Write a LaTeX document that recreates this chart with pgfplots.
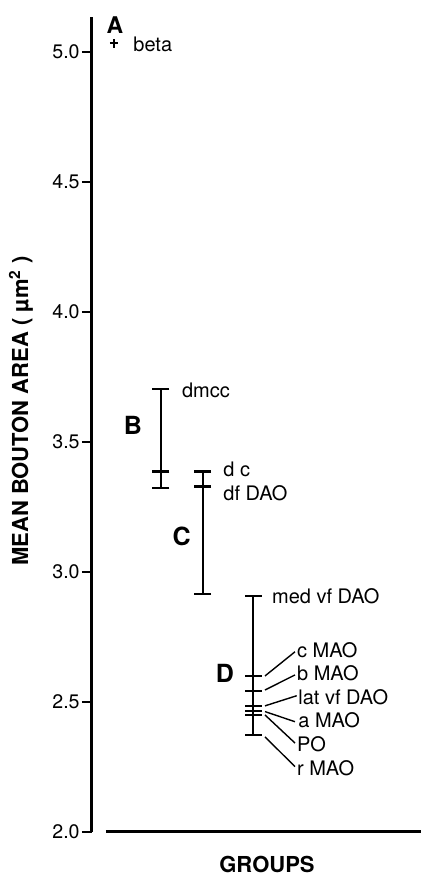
\documentclass[border=0pt]{standalone}
\usepackage{pgfplots}
\pgfplotsset{compat=1.18}
\usepackage{fontspec}
\setmainfont{TeX Gyre Heros}
\newcommand{\lab}{\fontsize{10}{12}\selectfont}
\newcommand{\tck}{\fontsize{9.8}{11}\selectfont}
\newcommand{\grp}{\fontsize{12.5}{14}\selectfont\bfseries}
\begin{document}
\begin{tikzpicture}
\begin{axis}[
  scale only axis, width=164.5pt, height=407.36pt,
  xmin=92, xmax=421, ymin=2.0, ymax=5.1335,
  axis x line=none, axis y line*=left,
  y axis line style={line width=1.5pt},
  xtick=\empty,
  ytick={2.0,2.5,3.0,3.5,4.0,4.5,5.0},
  ytick pos=left, tick align=outside,
  major tick length=5pt,
  major tick style={line width=1pt, black},
  yticklabel style={font=\tck, inner sep=1pt},
  /pgf/number format/fixed, /pgf/number format/fixed zerofill,
  /pgf/number format/precision=1, /pgf/number format/assume math mode=true,
  clip=false,
]
% bars
\addplot[black, line width=1pt, mark=-, mark size=4.25pt, mark options={solid,line width=1.1pt}]
  coordinates {(161,3.703) (161,3.385) (161,3.323)};
\addplot[black, line width=1pt, mark=-, mark size=4.25pt, mark options={solid,line width=1.1pt}]
  coordinates {(202.7,3.385) (202.7,3.328) (202.7,2.914)};
\addplot[black, line width=1pt, mark=-, mark size=4.25pt, mark options={solid,line width=1.1pt}]
  coordinates {(253.3,2.908) (253.3,2.600) (253.3,2.541) (253.3,2.482) (253.3,2.464) (253.3,2.448) (253.3,2.372)};
% beta
\addplot[black, only marks, mark=+, mark size=2.1pt, mark options={line width=1.1pt}]
  coordinates {(114,5.032)};
% leader lines
\addplot[black, line width=0.7pt] coordinates {(265,2.599) (295,2.692)};
\addplot[black, line width=0.7pt] coordinates {(265,2.545) (295,2.603)};
\addplot[black, line width=0.7pt] coordinates {(265,2.484) (296.7,2.523)};
\addplot[black, line width=0.7pt] coordinates {(265,2.462) (295,2.423)};
\addplot[black, line width=0.7pt] coordinates {(265,2.449) (295,2.341)};
\addplot[black, line width=0.7pt] coordinates {(265,2.365) (295,2.250)};
% x axis line
\addplot[black, line width=1.3pt] coordinates {(106,2.0) (421,2.0)};
% group letters
\node[font=\fontsize{11.5}{13}\selectfont\bfseries, inner sep=0pt] at (axis cs:115,5.103) {A};
\node[font=\grp, inner sep=0pt] at (axis cs:133,3.564) {B};
\node[font=\grp, inner sep=0pt] at (axis cs:181.7,3.135) {C};
\node[font=\grp, inner sep=0pt] at (axis cs:225,2.610) {D};
% labels
\node[font=\lab, anchor=west, inner sep=0pt] at (axis cs:133,5.030) {beta};
\node[font=\lab, anchor=west, inner sep=0pt] at (axis cs:181.7,3.699) {dmcc};
\node[font=\lab, anchor=west, inner sep=0pt] at (axis cs:223,3.395) {d c};
\node[font=\lab, anchor=west, inner sep=0pt] at (axis cs:223,3.303) {df DAO};
\node[font=\lab, anchor=west, inner sep=0pt] at (axis cs:271.7,2.904) {med vf DAO};
\node[font=\lab, anchor=west, inner sep=0pt] at (axis cs:296.7,2.699) {c MAO};
\node[font=\lab, anchor=west, inner sep=0pt] at (axis cs:296.7,2.610) {b MAO};
\node[font=\lab, anchor=west, inner sep=0pt] at (axis cs:298,2.519) {lat vf DAO};
\node[font=\lab, anchor=west, inner sep=0pt] at (axis cs:298,2.427) {a MAO};
\node[font=\lab, anchor=west, inner sep=0pt] at (axis cs:296.7,2.336) {PO};
\node[font=\lab, anchor=west, inner sep=0pt] at (axis cs:296.7,2.244) {r MAO};
% axis titles
\node[font=\fontsize{11}{13}\selectfont\bfseries, rotate=90, inner sep=0pt] at (axis cs:21,3.618) {MEAN BOUTON AREA ( µm\textsuperscript{2} )};
\node[font=\fontsize{11}{13}\selectfont\bfseries, inner sep=0pt] at (axis cs:267,1.874) {GROUPS};
\coordinate (bbsw) at (axis cs:0,1.8258);
\coordinate (bbne) at (axis cs:421,5.1988);
\end{axis}
\pgfresetboundingbox
\path[use as bounding box] (bbsw) rectangle (bbne);
\end{tikzpicture}
\end{document}
